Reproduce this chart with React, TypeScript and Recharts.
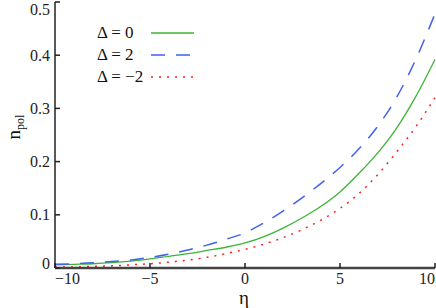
import { LineChart, Line, XAxis, YAxis } from "recharts";

const eta = [-10, -9, -8, -7, -6, -5, -4, -3, -2, -1, 0, 1, 2, 3, 4, 5, 6, 7, 8, 9, 10];
const delta0 = [0.006, 0.007, 0.008, 0.01, 0.013, 0.017, 0.022, 0.027, 0.033, 0.039, 0.047, 0.059, 0.075, 0.094, 0.116, 0.143, 0.178, 0.217, 0.264, 0.323, 0.392];
const delta2 = [0.007, 0.008, 0.01, 0.012, 0.015, 0.02, 0.026, 0.034, 0.043, 0.054, 0.066, 0.085, 0.107, 0.132, 0.159, 0.189, 0.224, 0.267, 0.322, 0.393, 0.478];
const deltaM2 = [0.002, 0.002, 0.003, 0.004, 0.006, 0.008, 0.011, 0.015, 0.02, 0.027, 0.035, 0.045, 0.057, 0.072, 0.09, 0.112, 0.14, 0.176, 0.219, 0.266, 0.32];

const xTicks = [-10, -5, 0, 5, 10];
const yTicks = [0, 0.1, 0.2, 0.3, 0.4, 0.5];

const data = eta.map((e, i) => ({ eta: e, d0: delta0[i], d2: delta2[i], dm2: deltaM2[i] }));

const FONT = "Liberation Serif";
const AXIS = "#222";

const fmt = (v: number) => (v < 0 ? "\u2212" + Math.abs(v) : String(v));

const LeftTick = (props: any) => {
  const { x, y, payload } = props;
  const ty = Math.min(Math.max(y, 9), 263);
  return (
    <g>
      <line x1={x} y1={y} x2={x + 5} y2={y} stroke={AXIS} strokeWidth={1.5} />
      <text x={x - 5} y={ty} textAnchor="end" dominantBaseline="central" fontFamily={FONT} fontSize={16} fill="#222">
        {payload.value}
      </text>
    </g>
  );
};

const BottomTick = (props: any) => {
  const { x, y, payload } = props;
  const v = payload.value;
  const anchor = v === -10 ? "start" : v === 10 ? "end" : "middle";
  return (
    <g>
      <line x1={x} y1={y} x2={x} y2={y - 5} stroke={AXIS} strokeWidth={1.5} />
      <text x={x} y={y + 10} textAnchor={anchor} dominantBaseline="central" fontFamily={FONT} fontSize={16} fill="#222">
        {fmt(v)}
      </text>
    </g>
  );
};

const RightTick = (props: any) => {
  const { x, y } = props;
  return <line x1={x} y1={y} x2={x - 5} y2={y} stroke={AXIS} strokeWidth={1.5} />;
};

const TopTick = (props: any) => {
  const { x, y } = props;
  return <line x1={x} y1={y} x2={x} y2={y + 5} stroke={AXIS} strokeWidth={1.5} />;
};

const legendRows = [
  { label: "\u0394 = 0", color: "#3cb534", dash: undefined as string | undefined, w: 1.3 },
  { label: "\u0394 = 2", color: "#3f62f0", dash: "14 11", w: 1.5 },
  { label: "\u0394 = \u22122", color: "#ff1f1f", dash: "2 6", w: 1.5 },
];

const LegendBox = () => (
  <div style={{ position: "absolute", left: 97, top: 22, fontFamily: FONT, fontSize: 17, color: "#111" }}>
    {legendRows.map((r) => (
      <div key={r.label} style={{ display: "flex", alignItems: "center", height: 22 }}>
        <span style={{ width: 54, whiteSpace: "nowrap" }}>{r.label}</span>
        <svg width={44} height={6}>
          <line x1={0} y1={3} x2={43} y2={3} stroke={r.color} strokeWidth={r.w} strokeDasharray={r.dash} />
        </svg>
      </div>
    ))}
  </div>
);

export default function App() {
  return (
    <div style={{ position: "absolute", left: 0, top: 0, width: 436, height: 308, background: "#fff" }}>
      <LineChart width={436} height={308} data={data} margin={{ top: 2, right: 1, left: 0, bottom: 0 }}>
        <XAxis
          dataKey="eta"
          type="number"
          domain={[-10, 10]}
          ticks={xTicks}
          height={40}
          tickSize={0}
          tickMargin={0}
          tickLine={false}
          tick={<BottomTick />}
          axisLine={{ stroke: "#444", strokeWidth: 2.5 }}
          interval={0}
        />
        <XAxis
          xAxisId="top"
          orientation="top"
          dataKey="eta"
          type="number"
          domain={[-10, 10]}
          ticks={xTicks}
          height={0}
          tickSize={0}
          tickMargin={0}
          tickLine={false}
          tick={<TopTick />}
          axisLine={{ stroke: AXIS, strokeWidth: 1.5 }}
          interval={0}
        />
        <YAxis
          type="number"
          domain={[0, 0.5]}
          ticks={yTicks}
          width={55}
          tickSize={0}
          tickMargin={0}
          tickLine={false}
          tick={<LeftTick />}
          axisLine={{ stroke: AXIS, strokeWidth: 1.5 }}
          interval={0}
        />
        <YAxis
          yAxisId="right"
          orientation="right"
          type="number"
          domain={[0, 0.5]}
          ticks={yTicks}
          width={0}
          tickSize={0}
          tickMargin={0}
          tickLine={false}
          tick={<RightTick />}
          axisLine={{ stroke: AXIS, strokeWidth: 1.5 }}
          interval={0}
        />
        <Line type="monotone" dataKey="d0" stroke="#3cb534" strokeWidth={1.3} dot={false} isAnimationActive={false} />
        <Line type="monotone" dataKey="d2" stroke="#3f62f0" strokeWidth={1.5} strokeDasharray="14 11" dot={false} isAnimationActive={false} />
        <Line type="monotone" dataKey="dm2" stroke="#ff1f1f" strokeWidth={1.5} strokeDasharray="2 6" dot={false} isAnimationActive={false} />
        <text x={20} y={127} transform="rotate(-90 20 127)" textAnchor="middle" fontFamily={FONT} fontSize={19} fill="#111">
          n<tspan fontSize={12} dy={4}>pol</tspan>
        </text>
        <text x={244} y={304} textAnchor="middle" fontFamily={FONT} fontSize={19} fill="#111">
          {"\u03B7"}
        </text>
      </LineChart>
      <LegendBox />
    </div>
  );
}
